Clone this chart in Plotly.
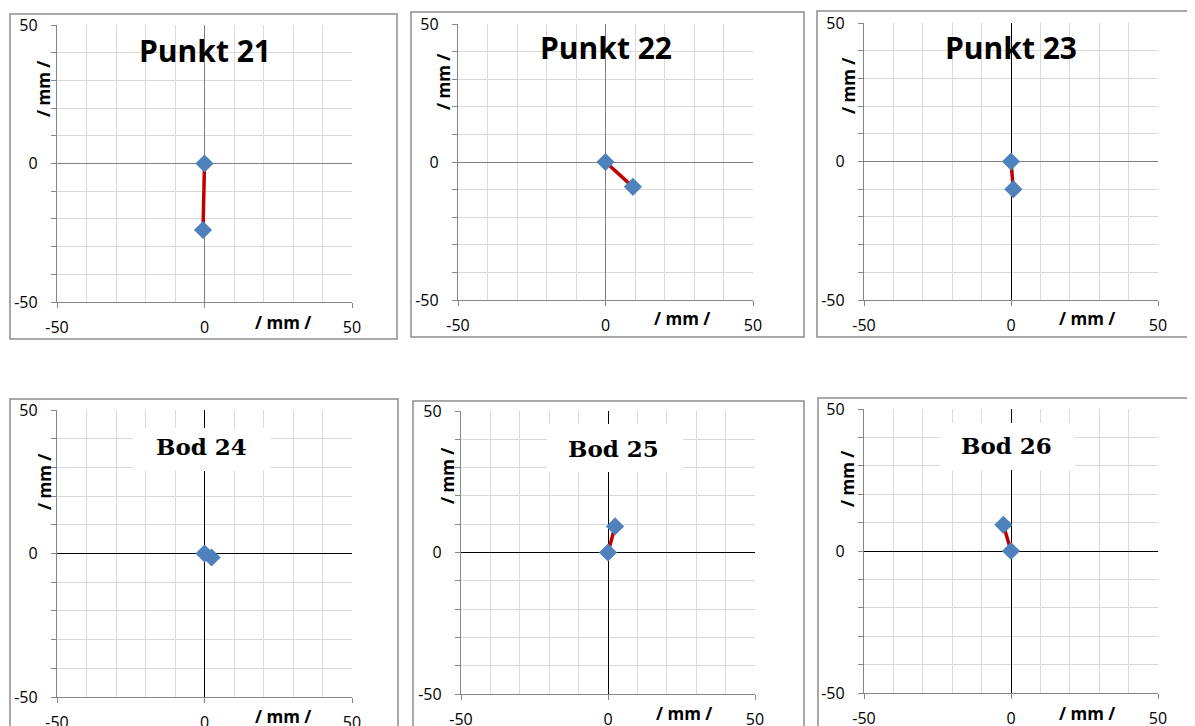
import plotly.graph_objects as go

# ---- data ----
titles = ["Punkt 21", "Punkt 22", "Punkt 23", "Bod 24", "Bod 25", "Bod 26"]
start_x = [0, 0, 0, 0, 0, 0]
start_y = [0, 0, 0, 0, 0, 0]
end_x = [-0.5, 9.3, 0.8, 2.4, 2.4, -2.6]
end_y = [-24, -9, -10, -1.4, 9.2, 9.2]
tick_vals = [-50, 0, 50]
tick_text = ["-50", "0", "50"]
axis_label = "/ mm /"

W, H = 1195, 726
OFF = 8  # page body margin

# plot areas in pixels (x0, x1, ytop, ybottom)
areas = [
    (57, 352, 25, 302),
    (458, 753, 24, 300),
    (864, 1158, 23, 300),
    (57, 352, 410, 697),
    (461, 755, 411, 694),
    (864, 1158, 409, 693),
]
borders = [
    (10, 397, 14, 339),
    (411, 804, 12, 337),
    (817, 1196, 11, 337),
    (10, 398, 399, 740),
    (413, 804, 401, 740),
    (818, 1196, 398, 740),
]
title_pos = [(205, 50), (606, 47), (1011, 47), (201, 447), (613, 448), (1007, 445)]
title_box = [None, None, None, (133, 270, 428, 471), (547, 683, 424, 472), (940, 1075, 423, 470)]
ylab_pos = [(44, 89), (443, 82), (849, 86), (44, 482), (447, 476), (848, 479)]
xlab_pos = [(283, 322), (682, 318), (1087, 319), (283, 716), (684, 713), (1087, 713)]


def px(x):
    return (x - OFF) / W


def py(y):
    return 1 - (y - OFF) / H


fig = go.Figure()
shapes = []
annotations = []

for i in range(6):
    n = "" if i == 0 else str(i + 1)
    row2 = i >= 3
    x0, x1, yt, yb = areas[i]
    tick_font = dict(family="Open Sans", size=16, color="#000000")
    zero_y = "#000000" if row2 else "#7f7f7f"
    zero_x = "#000000" if (row2 or i == 2) else "#7f7f7f"

    fig.add_trace(go.Scatter(
        x=[start_x[i], end_x[i]], y=[start_y[i], end_y[i]],
        xaxis="x" + n, yaxis="y" + n, mode="lines+markers",
        line=dict(color="#C00000", width=3.5),
        marker=dict(symbol="diamond", size=14, color="#4F81BD"),
        showlegend=False, hoverinfo="x+y", cliponaxis=False,
    ))

    fig.layout["xaxis" + n] = dict(
        domain=[px(x0), px(x1)], anchor="y" + n, range=[-50, 50],
        tickvals=tick_vals, ticktext=tick_text, tickfont=tick_font,
        ticks="outside", ticklen=5, tickcolor="#868686", ticklabelstandoff=6,
        showgrid=True, gridcolor="#d9d9d9", gridwidth=1,
        minor=dict(dtick=10, tick0=0, showgrid=True, gridcolor="#d9d9d9", gridwidth=1, ticks=""),
        zeroline=True, zerolinecolor=zero_x, zerolinewidth=1.4,
        showline=True, linecolor="#868686", linewidth=1.3, mirror=False,
        fixedrange=True, automargin=False,
    )
    fig.layout["yaxis" + n] = dict(
        domain=[py(yb), py(yt)], anchor="x" + n, range=[-50, 50],
        tickvals=tick_vals, ticktext=tick_text, tickfont=tick_font,
        ticks="outside", ticklen=5, tickcolor="#868686", ticklabelstandoff=10,
        showgrid=True, gridcolor="#d9d9d9", gridwidth=1,
        minor=dict(dtick=10, tick0=0, showgrid=True, gridcolor="#d9d9d9", gridwidth=1,
                   ticks="outside", ticklen=5, tickcolor="#868686"),
        zeroline=True, zerolinecolor=zero_y, zerolinewidth=1.4,
        showline=True, linecolor="#868686", linewidth=1.3, mirror=False,
        fixedrange=True, automargin=False,
    )

    bx0, bx1, by0, by1 = borders[i]
    shapes.append(dict(type="rect", xref="paper", yref="paper",
                       x0=px(bx0), x1=px(bx1), y0=py(by1), y1=py(by0),
                       line=dict(color="#8c8c8c", width=1.5), fillcolor="rgba(0,0,0,0)", layer="below"))
    if title_box[i] is not None:
        tx0, tx1, ty0, ty1 = title_box[i]
        shapes.append(dict(type="rect", xref="paper", yref="paper",
                           x0=px(tx0), x1=px(tx1), y0=py(ty1), y1=py(ty0),
                           line=dict(width=0), fillcolor="#ffffff", layer="above"))

    tx, ty = title_pos[i]
    annotations.append(dict(
        text="<b>%s</b>" % titles[i], xref="paper", yref="paper", x=px(tx), y=py(ty),
        xanchor="center", yanchor="middle", showarrow=False,
        font=dict(family="DejaVu Serif" if row2 else "Open Sans", size=23 if row2 else 30, color="#000000"),
    ))
    lx, ly = ylab_pos[i]
    annotations.append(dict(
        text="<b>%s</b>" % axis_label, xref="paper", yref="paper", x=px(lx), y=py(ly),
        xanchor="center", yanchor="middle", showarrow=False, textangle=-90,
        font=dict(family="Open Sans", size=17, color="#000000"),
    ))
    lx, ly = xlab_pos[i]
    annotations.append(dict(
        text="<b>%s</b>" % axis_label, xref="paper", yref="paper", x=px(lx), y=py(ly),
        xanchor="center", yanchor="middle", showarrow=False,
        font=dict(family="Open Sans", size=17, color="#000000"),
    ))

fig.update_layout(
    width=W, height=H, margin=dict(l=0, r=0, t=0, b=0, pad=0, autoexpand=False),
    paper_bgcolor="#ffffff", plot_bgcolor="#ffffff",
    shapes=shapes, annotations=annotations, showlegend=False,
)

fig.write_html("out.html")
